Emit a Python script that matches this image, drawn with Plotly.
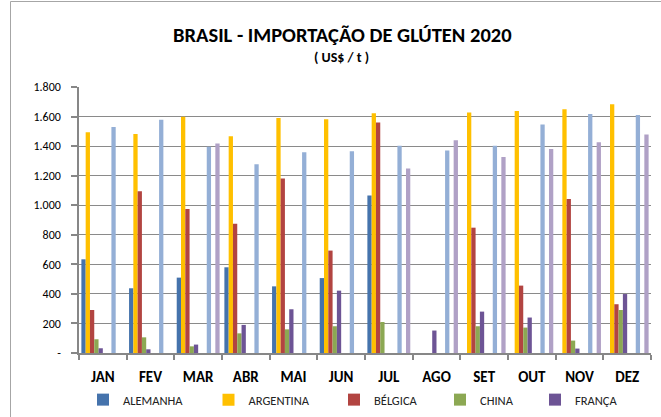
import plotly.graph_objects as go

months = ["JAN", "FEV", "MAR", "ABR", "MAI", "JUN", "JUL", "AGO", "SET", "OUT", "NOV", "DEZ"]

alemanha  = [634, 438, 510, 580, 451, 507, 1065, None, None, None, None, None]
argentina = [1493, 1482, 1599, 1466, 1590, 1581, 1622, None, 1628, 1637, 1649, 1683]
belgica   = [291, 1094, 974, 875, 1180, 693, 1559, None, 848, 456, 1042, 330]
china     = [93, 106, 45, 133, 160, 181, 210, None, 181, 172, 84, 291]
franca    = [32, 25, 57, 190, 296, 422, None, 152, 280, 240, 30, 399]
serie6    = [0] * 12
serie7    = [0] * 12
serie8    = [1529, 1579, 1396, 1277, 1358, 1365, 1403, 1371, 1403, 1547, 1617, 1610]
serie9    = [0] * 12
serie10   = [None, None, 1417, None, None, None, 1248, 1439, 1326, 1380, 1426, 1478]

y_ticks = [0, 200, 400, 600, 800, 1000, 1200, 1400, 1600, 1800]
y_tick_labels = ["-" if v == 0 else f"{v:,}".replace(",", ".") for v in y_ticks]

FONT = "Carlito, Calibri, Lato, sans-serif"

series = [
    ("ALEMANHA", alemanha, "#4573AC", "legend"),
    ("ARGENTINA", argentina, "#FFC000", "legend2"),
    ("BÉLGICA", belgica, "#B24441", "legend3"),
    ("CHINA", china, "#8CA853", "legend4"),
    ("FRANÇA", franca, "#6D5495", "legend5"),
    ("S6", serie6, "#ffffff", None),
    ("S7", serie7, "#ffffff", None),
    ("S8", serie8, "#94AFD6", None),
    ("S9", serie9, "#ffffff", None),
    ("S10", serie10, "#B0A1C6", None),
]

fig = go.Figure()
for name, vals, color, leg in series:
    kw = dict(x=months, y=vals, name=name, marker=dict(color=color, line=dict(width=0)))
    if leg:
        kw["legend"] = leg
        kw["showlegend"] = True
    else:
        kw["showlegend"] = False
    fig.add_trace(go.Bar(**kw))

W, H = 661, 417
L, R, T, B = 79, 10, 87, 64
pw, ph = W - L - R, H - T - B


def px(x):
    return (x - L) / pw


def py(y):
    return (H - B - y) / ph


legend_centers = [109, 234.5, 360, 466, 561]
legend_layout = {}
for i, c in enumerate(legend_centers):
    key = "legend" if i == 0 else f"legend{i+1}"
    legend_layout[key] = dict(
        x=px(c - 26), y=py(400), xanchor="left", yanchor="middle",
        orientation="h", bgcolor="rgba(0,0,0,0)",
        font=dict(family=FONT, size=12.5, color="#222222"),
        itemwidth=30,
    )

fig.update_layout(
    width=W, height=H,
    margin=dict(l=L, r=R, t=T, b=B, autoexpand=False),
    paper_bgcolor="white", plot_bgcolor="white",
    barmode="group", bargap=0.1, bargroupgap=0,
    separators=",.",
    font=dict(family=FONT, color="#000000"),
    **legend_layout,
)

fig.update_xaxes(
    type="category",
    showline=True, linecolor="#878787", linewidth=1.5,
    ticks="outside", tickson="boundaries", ticklen=5, tickcolor="#878787", tickwidth=1.5,
    tickfont=dict(family=FONT, size=15, color="#000000", weight="bold"),
    ticklabelstandoff=9,
    showgrid=False,
)
fig.update_yaxes(
    range=[0, 1800],
    tickvals=y_ticks, ticktext=y_tick_labels,
    showline=True, linecolor="#878787", linewidth=1.5,
    ticks="outside", ticklen=6, tickcolor="#878787", tickwidth=1.5,
    showgrid=True, gridcolor="#8a8a8a", gridwidth=1.2,
    zeroline=False,
    tickfont=dict(family=FONT, size=12, color="#000000"),
    ticklabelstandoff=8,
)

fig.add_annotation(
    text="<b>BRASIL - IMPORTAÇÃO DE GLÚTEN 2020</b>",
    xref="paper", yref="paper", x=px(342.5), y=py(35),
    xanchor="center", yanchor="middle", showarrow=False,
    font=dict(family=FONT, size=20.5, color="#000000"),
)
fig.add_annotation(
    text="<b>( US$ / t )</b>",
    xref="paper", yref="paper", x=px(341), y=py(58),
    xanchor="center", yanchor="middle", showarrow=False,
    font=dict(family=FONT, size=14, color="#000000"),
)

# outer chart frame (top and left edges visible)
fig.add_shape(
    type="rect", xref="paper", yref="paper",
    x0=px(10.5), x1=px(700), y0=py(1.5), y1=py(480),
    line=dict(color="#a6a6a6", width=1), fillcolor="rgba(0,0,0,0)", layer="below",
)

fig.write_html(
    "out.html",
    config={"displayModeBar": False},
    post_script="document.body.style.margin='0';",
)
